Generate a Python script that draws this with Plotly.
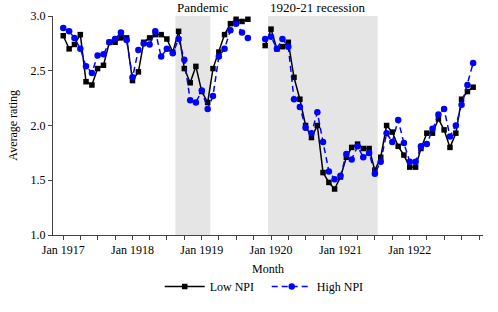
import plotly.graph_objects as go
import pandas as pd

months = pd.date_range("1917-01-01", "1922-12-01", freq="MS")

low_npi = [
    # 1917
    2.82, 2.70, 2.74, 2.83, 2.40, 2.37, 2.52, 2.55, 2.76, 2.76, 2.80, 2.80,
    # 1918
    2.41, 2.49, 2.76, 2.80, 2.83, 2.83, 2.79, 2.67, 2.86, 2.52, 2.39, 2.54,
    # 1919
    2.31, 2.21, 2.52, 2.67, 2.83, 2.93, 2.97, 2.95, 2.97, None, None, 2.73,
    # 1920
    2.88, 2.70, 2.72, 2.76, 2.44, 2.24, 2.00, 1.89, 2.00, 1.57, 1.48, 1.42,
    # 1921
    1.53, 1.71, 1.80, 1.83, 1.79, 1.79, 1.59, 1.71, 2.00, 1.94, 1.81, 1.73,
    # 1922
    1.62, 1.62, 1.79, 1.93, 1.93, 2.06, 1.96, 1.80, 1.93, 2.24, 2.31, 2.35,
]

high_npi = [
    # 1917
    2.89, 2.86, 2.80, 2.70, 2.54, 2.48, 2.64, 2.65, 2.76, 2.79, 2.85, 2.78,
    # 1918
    2.44, 2.69, 2.75, 2.74, 2.86, 2.63, 2.70, 2.66, 2.79, 2.60, 2.23, 2.21,
    # 1919
    2.32, 2.15, 2.27, 2.63, 2.70, 2.87, 2.93, 2.85, 2.80, None, None, 2.79,
    # 1920
    2.81, 2.70, 2.79, 2.72, 2.24, 2.17, 1.98, 1.93, 2.12, 1.85, 1.58, 1.51,
    # 1921
    1.54, 1.74, 1.69, 1.81, 1.71, 1.75, 1.56, 1.67, 1.93, 1.85, 2.05, 1.84,
    # 1922
    1.67, 1.67, 1.81, 1.83, 1.97, 2.10, 2.15, 1.90, 2.00, 2.19, 2.37, 2.57,
]

y_ticks = [1.0, 1.5, 2.0, 2.5, 3.0]
x_ticks = ["1917-01-01", "1918-01-01", "1919-01-01", "1920-01-01", "1921-01-01", "1922-01-01"]
x_tick_labels = ["Jan 1917", "Jan 1918", "Jan 1919", "Jan 1920", "Jan 1921", "Jan 1922"]
periods = [("Pandemic", "1918-08-15", "1919-02-15"),
           ("1920-21 recession", "1919-12-16", "1921-07-16")]

FONT = "Liberation Serif"

fig = go.Figure()
fig.add_trace(go.Scatter(
    x=months, y=low_npi, name="Low NPI", mode="lines+markers",
    line=dict(color="black", width=1.5),
    marker=dict(symbol="square", size=5.5, color="black"),
    connectgaps=False,
))
fig.add_trace(go.Scatter(
    x=months, y=high_npi, name="High NPI", mode="lines+markers",
    line=dict(color="#0000ff", width=1.5, dash="6px,4px"),
    marker=dict(symbol="circle", size=6.5, color="#0000ff"),
    connectgaps=False,
))

for label, x0, x1 in periods:
    fig.add_shape(type="rect", xref="x", yref="paper", x0=x0, x1=x1, y0=0, y1=1,
                  fillcolor="#e5e5e5", line=dict(width=0), layer="below")
    fig.add_annotation(x=x0, y=1, xref="x", yref="paper", text=label,
                       showarrow=False, xanchor="left", yanchor="bottom",
                       xshift=0, yshift=-1,
                       font=dict(family=FONT, size=13, color="black"))

fig.add_annotation(x=0.5, y=-0.115, xref="paper", yref="paper", text="Month",
                   showarrow=False, xanchor="center", yanchor="top",
                   font=dict(family=FONT, size=12, color="black"))
fig.add_annotation(x=-0.095, y=0.5, xref="paper", yref="paper", text="Average rating",
                   showarrow=False, textangle=-90, xanchor="center", yanchor="middle",
                   font=dict(family=FONT, size=12, color="black"))

fig.update_layout(
    width=498, height=312,
    margin=dict(l=53, r=15, t=16, b=77, autoexpand=False),
    plot_bgcolor="white", paper_bgcolor="white",
    font=dict(family=FONT, size=12, color="black"),
    showlegend=True,
    legend=dict(orientation="h", x=0.497, xanchor="center", y=-0.235, yanchor="middle",
                font=dict(family=FONT, size=12, color="black"),
                bgcolor="rgba(0,0,0,0)", itemwidth=40, tracegroupgap=0,
                entrywidth=52, entrywidthmode="pixels"),
    xaxis=dict(
        type="date",
        range=["1916-11-08", "1923-01-22"],
        tickvals=x_ticks, ticktext=x_tick_labels,
        ticks="outside", ticklen=4, tickcolor="#444",
        showline=True, linecolor="#444", linewidth=1,
        showgrid=False, zeroline=False, automargin=False,
        minor=dict(ticks="outside", dtick="M3", tick0="1917-01-01", ticklen=4,
                   tickcolor="#444", showgrid=False),
    ),
    yaxis=dict(
        range=[1.0, 3.0], tickvals=y_ticks, tickformat=".1f",
        ticks="outside", ticklen=4, tickcolor="#444",
        showline=True, linecolor="#444", linewidth=1,
        showgrid=False, zeroline=False, automargin=False,
    ),
)

# remove the browser's default 8px body margin so the figure fills the window
fig.write_html("out.html", config={"displayModeBar": False},
               post_script="document.body.style.margin='0';")
